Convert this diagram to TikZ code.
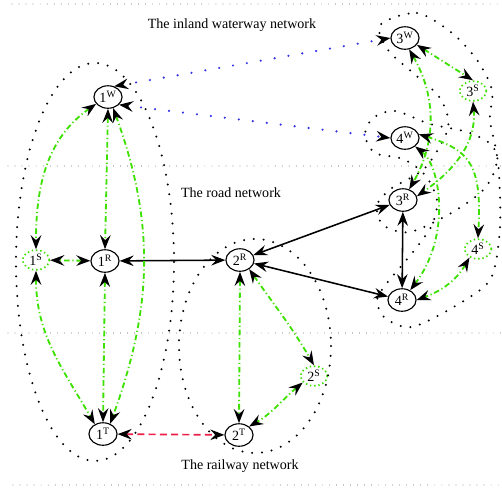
\documentclass[tikz,border=0pt]{standalone}
\usepackage{fontspec}
\setmainfont{Liberation Serif}
\usepackage{xcolor}
\usepackage{tikz}
\usetikzlibrary{shapes,arrows,arrows.meta,positioning,calc}

\definecolor{modegreen}{RGB}{60,225,0}
\definecolor{linkblue}{RGB}{50,50,230}
\definecolor{railred}{RGB}{235,30,70}

\begin{document}
\begin{tikzpicture}[x=0.025cm, y=-0.025cm,
    >={Stealth[length=10pt,width=7.5pt,inset=3.5pt,color=black]},
    mode/.style={ellipse, draw, thick, minimum width=20pt, minimum height=16pt, inner sep=0.5pt},
    switch/.style={ellipse, draw=modegreen, line width=1.2pt, dash pattern=on 1pt off 2pt, minimum width=19pt, minimum height=14pt, inner sep=0.5pt},
    road/.style={<->, line width=1.1pt},
    transfer/.style={<->, modegreen, line width=1.3pt, dash pattern=on 4pt off 2pt on 0.8pt off 2pt},
    water/.style={<->, linkblue, line width=1.7pt, line cap=round, dash pattern=on 0pt off 10pt},
    rail/.style={<->, railred, line width=1.2pt, dash pattern=on 5pt off 3pt},
    region/.style={line width=1.6pt, line cap=round, dash pattern=on 0pt off 7pt},
    layer/.style={line width=0.5pt, line cap=round, dash pattern=on 0pt off 5pt}]
    \useasboundingbox (0,0) rectangle (502,489);

    % Layers
    \draw[layer] (12,4) -- (502,4);
    \draw[layer] (8,166) -- (502,166);
    \draw[layer] (8,333) -- (502,333);
    \draw[layer] (13,485) -- (502,485);
    \node (wlabel) at (232,25) {The inland waterway network};
    \node (rlabel) at (231,193) {The road network};
    \node (tlabel) at (240,466) {The railway network};

    % Location 1
    \node[mode] (1w) at (108,97) {1\textsuperscript{W}};
    \node[mode] (1r) at (105,261) {1\textsuperscript{R}};
    \node[mode] (1t) at (103,434) {1\textsuperscript{T}};
    \node[switch] (1s) at (36,260) {1\textsuperscript{S}};
    \draw[region] (95,262) ellipse (79 and 199);

    % Location 2
    \node[mode] (2r) at (240,260) {2\textsuperscript{R}};
    \node[mode] (2t) at (239,435) {2\textsuperscript{T}};
    \node[switch] (2s) at (314,376) {2\textsuperscript{S}};
    \draw[region] (255,346) ellipse (76 and 107);

    % Location 3
    \node[mode] (3w) at (405,38) {3\textsuperscript{W}};
    \node[mode] (3r) at (403,200) {3\textsuperscript{R}};
    \node[switch] (3s) at (473,91) {3\textsuperscript{S}};
    \draw[region] plot[smooth cycle] coordinates {(380,25) (417,13) (452,33) (477,60)
        (492,90) (490,120) (497,160) (485,188) (453,212) (410,232) (383,225) (377,205)
        (392,188) (425,168) (448,128) (440,98) (412,72) (388,50)};

    % Location 4
    \node[mode] (4w) at (405,138) {4\textsuperscript{W}};
    \node[mode] (4r) at (402,300) {4\textsuperscript{R}};
    \node[switch] (4s) at (478,249) {4\textsuperscript{S}};
    \draw[region] plot[smooth cycle] coordinates {(373,118) (395,111) (430,124) (470,133)
        (495,150) (500,195) (499,240) (490,280) (457,305) (412,327) (385,318) (377,300)
        (387,283) (413,252) (432,225) (437,200) (425,175) (403,159) (375,153) (365,135)};

    % Waterway links
    \draw[water] (1w.60) -- (3w.west);
    \draw[water] (1w.-35) -- (4w.west);

    % Road links
    \draw[road] (1r) -- (2r);
    \draw[road] (2r) -- (3r);
    \draw[road] (2r) -- (4r);
    \draw[road] (3r) -- (4r);

    % Railway link
    \draw[rail] (1t) -- (2t);

    % Transfers at 1
    \draw[transfer] (1w.south) -- (1r.north);
    \draw[transfer] (1r) -- (1s);
    \draw[transfer] (1r.south) -- (1t.north);
    \draw[transfer] (1w.-150) to[out=-145, in=90] (1s.north);
    \draw[transfer] (1s.south) to[out=-90, in=120] (1t.130);
    \draw[transfer] (1w.-65) to[out=-70, in=70] (1t.55);

    % Transfers at 2
    \draw[transfer] (2r.south) -- (2t.north);
    \draw[transfer] (2r.-45) to[out=-55, in=120] (2s.north);
    \draw[transfer] (2s.-150) to[out=-140, in=30] (2t.40);

    % Transfers at 3
    \draw[transfer] (3w.-30) -- (3s.north);
    \draw[transfer] (3w.-70) to[out=-60, in=60] (3r.60);
    \draw[transfer] (3s.south) to[out=-85, in=35] (3r.15);

    % Transfers at 4
    \draw[transfer] (4w.15) .. controls (470,150) and (482,165) .. (4s.north);
    \draw[transfer] (4w.-40) .. controls (440,165) and (452,235) .. (4r.50);
    \draw[transfer] (4s.-135) to[out=-120, in=20] (4r.east);
\end{tikzpicture}
\end{document}
